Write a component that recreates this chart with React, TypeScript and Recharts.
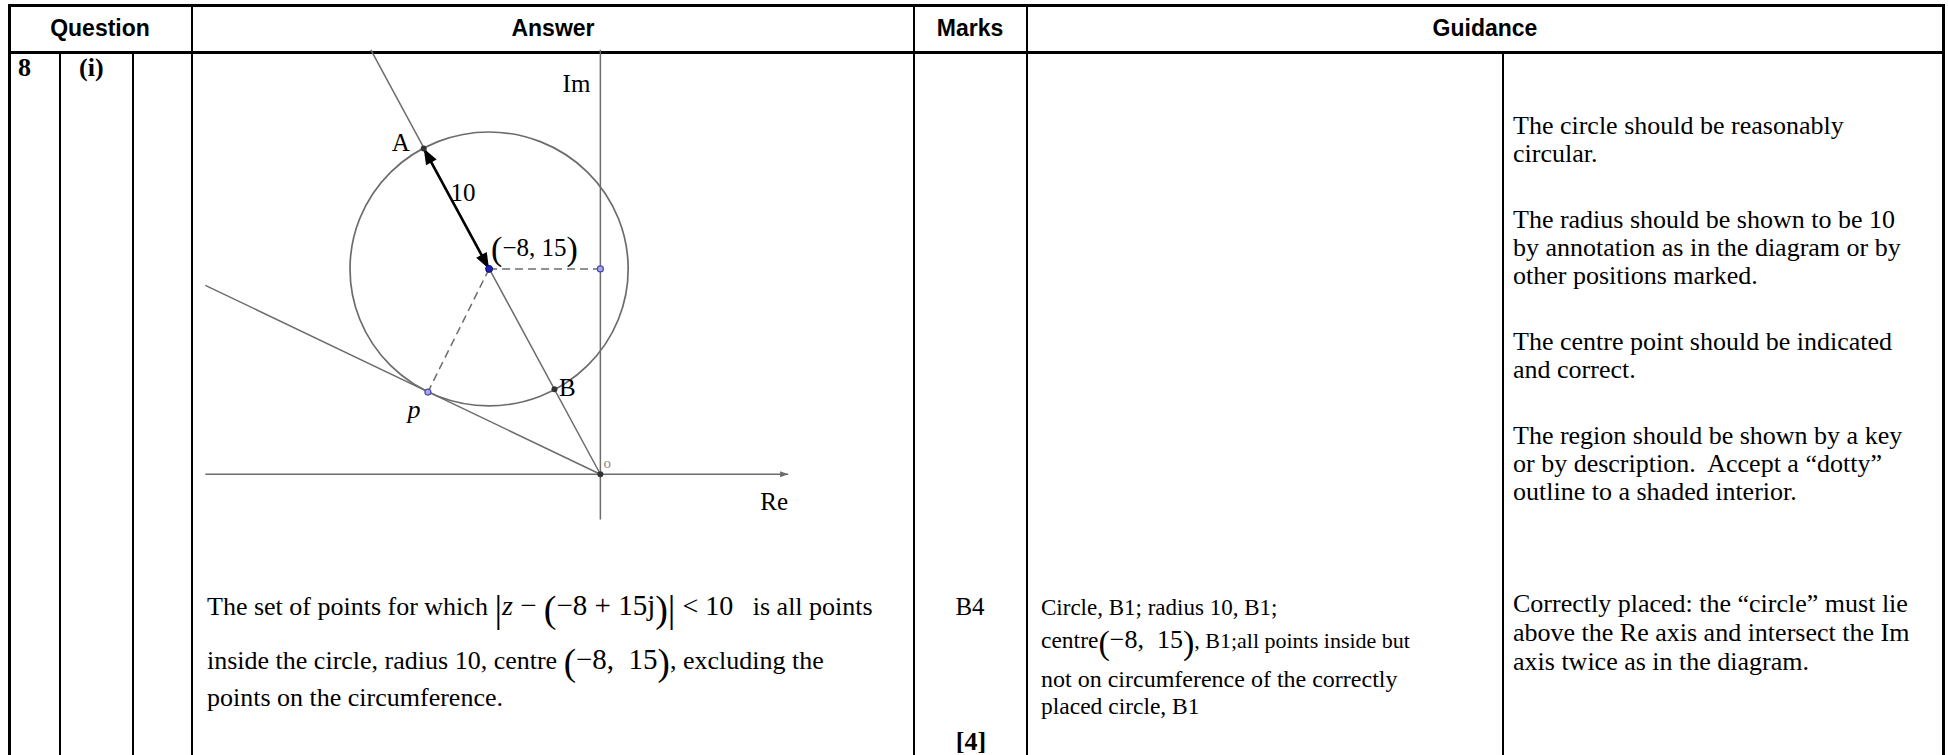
import React from "react";
import { ScatterChart, Scatter, XAxis, YAxis, ReferenceLine } from "recharts";

const SERIF = '"Liberation Serif", "Times New Roman", serif';
const SANS = '"Liberation Sans", Arial, sans-serif';

// table text
const headers = ["Question", "Answer", "Marks", "Guidance"];
const questionNo = "8";
const questionPart = "(i)";
const markTotal = "B4";
const markBracket = "[4]";
const placementNote = [
  "Correctly placed: the \u201ccircle\u201d must lie",
  "above the Re axis and intersect the Im",
  "axis twice as in the diagram.",
];
const guidanceNotes = [
  ["The circle should be reasonably", "circular."],
  ["The radius should be shown to be 10", "by annotation as in the diagram or by", "other positions marked."],
  ["The centre point should be indicated", "and correct."],
  ["The region should be shown by a key", "or by description.  Accept a \u201cdotty\u201d", "outline to a shaded interior."],
];

// Argand diagram, values in Re / Im units
const circleCentre = [{ x: -8, y: 15, r: 10 }];
const reAxis = [{ x: -28.4, y: 0 }, { x: 13.5, y: 0 }];
const imAxis = [{ x: 0, y: -3.3 }, { x: 0, y: 31.0 }];
const rayThroughCentre = [{ x: 0, y: 0 }, { x: -16.5, y: 31.0 }];
const tangentLine = [{ x: -28.4, y: 13.8 }, { x: 0, y: 0 }];
const radiusArrow = [{ x: -8, y: 15 }, { x: -12.7, y: 23.8 }];
const dashToP = [{ x: -8, y: 15 }, { x: -12.4, y: 6.0 }];
const dashToIm = [{ x: -8, y: 15 }, { x: 0, y: 15 }];
const darkPoints = [{ x: -12.7, y: 23.8 }, { x: -3.3, y: 6.2 }, { x: 0, y: 0 }];
const bluePoints = [{ x: -12.4, y: 6.0 }, { x: 0, y: 15 }];
const centrePoint = [{ x: -8, y: 15 }];
const pointLabels = [
  { x: -12.7, y: 23.8, text: "A" },
  { x: -3.3, y: 6.2, text: "B" },
  { x: -12.4, y: 6.0, text: "p" },
  { x: -8, y: 15, text: "(\u22128, 15)" },
  { x: -10.35, y: 19.4, text: "10" },
  { x: 0, y: 31.0, text: "Im" },
  { x: 13.5, y: 0, text: "Re" },
  { x: 0, y: 0, text: "o" },
];

const X_DOMAIN: [number, number] = [-29, 15];
const Y_DOMAIN: [number, number] = [-4, 31.5];
const CHART_LEFT = 197;
const CHART_TOP = 43;
const CHART_W = 612;
const CHART_H = 486;
const PX_X = CHART_W / (X_DOMAIN[1] - X_DOMAIN[0]);
const PX_Y = CHART_H / (Y_DOMAIN[1] - Y_DOMAIN[0]);

const GREY = "#6c6c6c";

// label placement relative to its anchor point, in px
const labelStyle: Record<string, any> = {
  A: { dx: -23, dy: 3, anchor: "middle", size: 25 },
  B: { dx: 13, dy: 7, anchor: "middle", size: 25 },
  p: { dx: -14, dy: 26, anchor: "middle", size: 26, italic: true },
  "(\u22128, 15)": { dx: 2, dy: -13, anchor: "start", size: 25, parens: true },
  "10": { dx: -6, dy: -8, anchor: "start", size: 25 },
  Im: { dx: -10, dy: 42, anchor: "end", size: 25 },
  Re: { dx: 0, dy: 36, anchor: "end", size: 25 },
  o: { dx: 7, dy: -6, anchor: "middle", size: 15, color: "#8a8a8a" },
};

const LabelShape = (props: any) => {
  const { cx, cy, payload } = props;
  const s = labelStyle[payload.text];
  if (s.parens) {
    return (
      <text x={cx + s.dx} y={cy + s.dy} fontFamily={SERIF} fontSize={s.size} fill="#000">
        <tspan fontSize={34} dy={4}>(</tspan>
        <tspan dy={-4}>{"\u22128,  15"}</tspan>
        <tspan fontSize={34} dy={4}>)</tspan>
      </text>
    );
  }
  return (
    <text
      x={cx + s.dx}
      y={cy + s.dy}
      textAnchor={s.anchor}
      fontFamily={SERIF}
      fontSize={s.size}
      fontStyle={s.italic ? "italic" : "normal"}
      fill={s.color || "#000"}
    >
      {payload.text}
    </text>
  );
};

const CircleShape = (props: any) => {
  const { cx, cy, payload } = props;
  return (
    <ellipse
      cx={cx}
      cy={cy}
      rx={payload.r * PX_X}
      ry={payload.r * PX_Y}
      fill="none"
      stroke={GREY}
      strokeWidth={1.7}
    />
  );
};

const DarkDot = (props: any) => <circle cx={props.cx} cy={props.cy} r={3} fill="#333" />;
const BlueDot = (props: any) => (
  <circle cx={props.cx} cy={props.cy} r={3} fill="#a8a8e6" stroke="#4a4ab0" strokeWidth={1.2} />
);
const CentreDot = (props: any) => (
  <circle cx={props.cx} cy={props.cy} r={3.5} fill="#2020b0" stroke="#10107a" strokeWidth={1} />
);

const head = (x: number, y: number, ang: number, len: number, w: number) => {
  const bx = x - len * Math.cos(ang);
  const by = y - len * Math.sin(ang);
  const nx = -Math.sin(ang) * w;
  const ny = Math.cos(ang) * w;
  return `${x},${y} ${bx + nx},${by + ny} ${bx - nx},${by - ny}`;
};

const DoubleArrow = (props: any) => {
  const { x1, y1, x2, y2 } = props;
  const ang = Math.atan2(y2 - y1, x2 - x1);
  return (
    <g>
      <line x1={x1} y1={y1} x2={x2} y2={y2} stroke="#000" strokeWidth={2.6} />
      <polygon points={head(x2, y2, ang, 16, 6)} fill="#000" />
      <polygon points={head(x1, y1, ang + Math.PI, 16, 6)} fill="#000" />
    </g>
  );
};

const AxisArrow = (props: any) => {
  const { x1, y1, x2, y2 } = props;
  const ang = Math.atan2(y2 - y1, x2 - x1);
  return (
    <g>
      <line x1={x1} y1={y1} x2={x2} y2={y2} stroke={GREY} strokeWidth={1.5} />
      <polygon points={head(x2, y2, ang, 8, 3)} fill={GREY} />
    </g>
  );
};

const Diagram = () => (
  <div style={{ position: "absolute", left: CHART_LEFT, top: CHART_TOP }}>
    <ScatterChart width={CHART_W} height={CHART_H} margin={{ top: 0, right: 0, bottom: 0, left: 0 }}>
      <XAxis type="number" dataKey="x" domain={X_DOMAIN} allowDataOverflow hide />
      <YAxis type="number" dataKey="y" domain={Y_DOMAIN} allowDataOverflow hide />
      <ReferenceLine segment={reAxis} shape={AxisArrow} ifOverflow="visible" />
      <ReferenceLine segment={imAxis} stroke={GREY} strokeWidth={1.5} ifOverflow="visible" />
      <ReferenceLine segment={rayThroughCentre} stroke={GREY} strokeWidth={1.5} ifOverflow="visible" />
      <ReferenceLine segment={tangentLine} stroke={GREY} strokeWidth={1.5} ifOverflow="visible" />
      <ReferenceLine segment={dashToP} stroke={GREY} strokeWidth={1.5} strokeDasharray="8 5" ifOverflow="visible" />
      <ReferenceLine segment={dashToIm} stroke={GREY} strokeWidth={1.5} strokeDasharray="8 5" ifOverflow="visible" />
      <ReferenceLine segment={radiusArrow} shape={DoubleArrow} ifOverflow="visible" />
      <Scatter data={circleCentre} shape={CircleShape} isAnimationActive={false} />
      <Scatter data={darkPoints} shape={DarkDot} isAnimationActive={false} />
      <Scatter data={bluePoints} shape={BlueDot} isAnimationActive={false} />
      <Scatter data={centrePoint} shape={CentreDot} isAnimationActive={false} />
      <Scatter data={pointLabels} shape={LabelShape} isAnimationActive={false} />
    </ScatterChart>
  </div>
);

// text placed by its baseline
const Txt = (p: any) => {
  const size = p.size || 26;
  const asc = p.sans ? 0.8465 : 0.8375;
  return (
    <div
      style={{
        position: "absolute",
        left: p.x,
        top: p.base - asc * size,
        fontSize: size,
        lineHeight: `${size}px`,
        fontFamily: p.sans ? SANS : SERIF,
        fontWeight: p.bold ? 700 : 400,
        whiteSpace: "pre",
        color: "#000",
        transform: p.center ? "translateX(-50%)" : undefined,
      }}
    >
      {p.children}
    </div>
  );
};

const Big = ({ c, size = 34, drop = 6 }: any) => (
  <span style={{ fontSize: size, lineHeight: 0, verticalAlign: `${-drop}px` }}>{c}</span>
);

const Rule = ({ x, y, w, h }: any) => (
  <div style={{ position: "absolute", left: x, top: y, width: w, height: h, background: "#000" }} />
);

export default function App() {
  const colCentres = [100, 553, 970, 1485];
  // guidance paragraphs: line pitch and paragraph gap in px
  const guideRows: { t: string; base: number }[] = [];
  let base = 135;
  guidanceNotes.forEach((para) => {
    para.forEach((t) => {
      guideRows.push({ t, base });
      base += 28;
    });
    base += 38;
  });
  return (
    <div
      style={{
        position: "absolute",
        left: 0,
        top: 0,
        width: 1948,
        height: 755,
        overflow: "hidden",
        background: "#fff",
      }}
    >
      {/* table rules */}
      <Rule x={8} y={4} w={1937} h={3} />
      <Rule x={8} y={51} w={1937} h={3} />
      <Rule x={8} y={4} w={3} h={760} />
      <Rule x={1942} y={4} w={3} h={760} />
      <Rule x={59} y={51} w={2} h={710} />
      <Rule x={132} y={51} w={2} h={710} />
      <Rule x={191} y={4} w={2} h={760} />
      <Rule x={913} y={4} w={2} h={760} />
      <Rule x={1026} y={4} w={2} h={760} />
      <Rule x={1502} y={51} w={2} h={710} />

      {headers.map((h, i) => (
        <Txt key={h} x={colCentres[i]} base={36} size={23} sans bold center>
          {h}
        </Txt>
      ))}

      <Txt x={18} base={77} size={26} bold>{questionNo}</Txt>
      <Txt x={79} base={77} size={26} bold>{questionPart}</Txt>

      <Diagram />

      {/* answer text */}
      <Txt x={207} base={614} size={26}>
        {"The set of points for which "}
        <Big c="|" size={38} drop={7} />
        <i style={{ fontSize: 28 }}>z</i>
        <span style={{ fontSize: 29 }}>{" \u2212 "}</span>
        <Big c="(" size={38} drop={7} />
        <span style={{ fontSize: 29 }}>{"\u22128 + 15j"}</span>
        <Big c=")" size={38} drop={7} />
        <Big c="|" size={38} drop={7} />
        <span style={{ fontSize: 28 }}>{" < 10"}</span>
        {"   is all points"}
      </Txt>
      <Txt x={207} base={668} size={26}>
        {"inside the circle, radius 10, centre "}
        <Big c="(" size={37} />
        <span style={{ fontSize: 29 }}>{"\u22128,  15"}</span>
        <Big c=")" size={37} />
        {", excluding the"}
      </Txt>
      <Txt x={207} base={707} size={26}>points on the circumference.</Txt>

      {/* marks */}
      <Txt x={970} base={615} size={25} center>{markTotal}</Txt>
      <Txt x={971} base={751} size={26} bold center>{markBracket}</Txt>

      <Txt x={1041} base={615} size={23}>Circle, B1; radius 10, B1;</Txt>
      <Txt x={1041} base={648} size={23.5}>
        {"centre"}
        <Big c="(" size={34} />
        <span style={{ fontSize: 26 }}>{"\u22128,  15"}</span>
        <Big c=")" size={34} />
        <span style={{ fontSize: 22 }}>{", B1;all points inside but"}</span>
      </Txt>
      <Txt x={1041} base={687} size={24}>not on circumference of the correctly</Txt>
      <Txt x={1041} base={715} size={23.5}>placed circle, B1</Txt>

      {/* guidance */}
      {placementNote.map((t, i) => (
        <Txt key={t} x={1513} base={613 + i * 29} size={26}>{t}</Txt>
      ))}
      {guideRows.map((r) => (
        <Txt key={r.t} x={1513} base={r.base} size={26}>{r.t}</Txt>
      ))}
    </div>
  );
}
